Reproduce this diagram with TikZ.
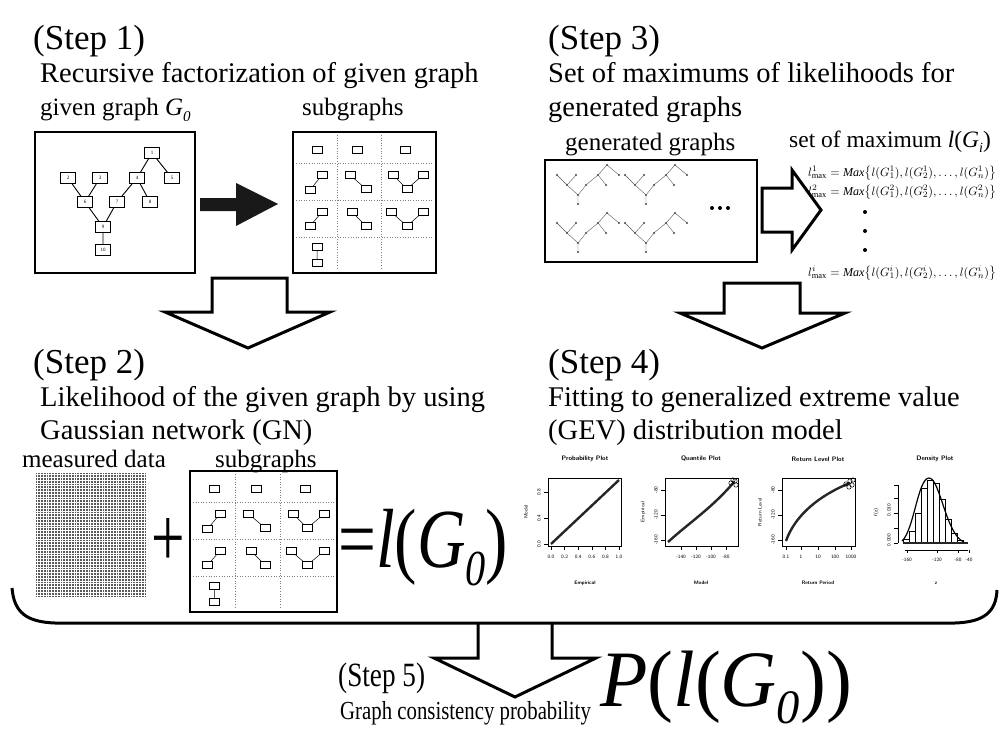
\documentclass[tikz,border=0pt]{standalone}
\usepackage{fontspec}
\setmainfont{Liberation Serif}
\usetikzlibrary{calc}
\newcommand\subs[1]{\raisebox{-0.22em}{\scalebox{0.6}{#1}}}
\tikzset{
  hdr/.style={anchor=base west, inner sep=0, font=\fontsize{35}{40}\selectfont},
  desc/.style={anchor=base west, inner sep=0, font=\fontsize{28.5}{32}\selectfont},
  lbl/.style={anchor=base west, inner sep=0, font=\fontsize{25}{28}\selectfont},
  frame/.style={draw, line width=1.8},
  gnode/.style={draw, line width=0.8, minimum width=15, minimum height=11, inner sep=0, fill=white, font=\fontsize{5}{6}\selectfont},
  gedge/.style={line width=0.9},
  snode/.style={draw, line width=0.5, minimum width=10, minimum height=7, inner sep=0, fill=white,
     path picture={\fill (path picture bounding box.center) circle (0.9);}},
  sedge/.style={line width=0.5},
  gridl/.style={gray, dotted, line width=0.6},
  mini/.style={gray!70!black, line width=0.4},
  hollow/.style={draw, line width=3, fill=white, line join=miter},
  pframe/.style={draw, line width=0.6},
  pcurve/.style={line width=2.4, black!85},
  ptitle/.style={inner sep=0, font=\sffamily\bfseries\fontsize{6.5}{7}\selectfont},
  tickl/.style={inner sep=0, font=\sffamily\fontsize{5}{6}\selectfont},
  formula/.style={anchor=base west, inner sep=0},
}
\newcommand\maxformula[1]{\resizebox{188pt}{!}{$l^{#1}_{\max}=\mathit{Max}\bigl\{l(G^{#1}_1),l(G^{#1}_2),\ldots,l(G^{#1}_n)\bigr\}$}}
\newcommand\subgraphsbox[3]{%
\begin{scope}[shift={(#1,#2)}]
\draw[frame] (0,0) rectangle (143,141);
\draw[gridl] (44,3) -- (44,138) (88,3) -- (88,138) (3,31) -- (140,31) (3,68) -- (140,68) (3,105) -- (140,105);
\node[snode] (#3a) at (24,18) {};
\node[snode] (#3b) at (64,18) {};
\node[snode] (#3c) at (112,18) {};
\node[snode] (#3d) at (29,43) {};
\node[snode] (#3e) at (17,58) {};
\node[snode] (#3f) at (57,43) {};
\node[snode] (#3g) at (73,57) {};
\node[snode] (#3h) at (100,43) {};
\node[snode] (#3i) at (130,43) {};
\node[snode] (#3j) at (114,57) {};
\node[snode] (#3k) at (29,80) {};
\node[snode] (#3l) at (17,94) {};
\node[snode] (#3m) at (59,80) {};
\node[snode] (#3n) at (73,94) {};
\node[snode] (#3o) at (98,80) {};
\node[snode] (#3p) at (130,80) {};
\node[snode] (#3q) at (114,94) {};
\node[snode] (#3r) at (24,115) {};
\node[snode] (#3s) at (24,131) {};
\draw[sedge] (#3d) -- (#3e) (#3f) -- (#3g) (#3h) -- (#3j) (#3i) -- (#3j)
  (#3k) -- (#3l) (#3m) -- (#3n) (#3o) -- (#3q) (#3p) -- (#3q) (#3r) -- (#3s);
\end{scope}}
\newcommand\minitree[2]{%
\begin{scope}[shift={(#1,#2)}]
\draw[mini] (70,8)--(61,18) (70,8)--(82,18) (20,18)--(30,28) (39,18)--(30,28)
  (61,18)--(49,28) (61,18)--(69,28) (30,28)--(41,38) (49,28)--(41,38) (41,38)--(41,47);
\foreach \p in {(70,8),(20,18),(39,18),(61,18),(82,18),(30,28),(49,28),(69,28),(41,38),(41,47)}
  \fill[gray!60!black] \p circle (1.2);
\end{scope}}
\begin{document}
\begin{tikzpicture}[x=1pt,y=-1pt]
\useasboundingbox (0,0) rectangle (1004,733);
\fill[white] (0,0) rectangle (1004,733);

% ---------- Step 1 ----------
\node[hdr] (s1h) at (33,50) {(Step 1)};
\node[desc] (s1d) at (40,83) {Recursive factorization of given graph};
\node[lbl] (s1l) at (40,116) {given graph \textit{G}\subs{\textit{0}}};
\node[lbl] (s1s) at (302,116) {subgraphs};
\draw[frame] (35,132) rectangle (195,273);
\node[gnode] (n1) at (152,153) {1};
\node[gnode] (n2) at (68,178) {2};
\node[gnode] (n3) at (100,178) {3};
\node[gnode] (n4) at (137,178) {4};
\node[gnode] (n5) at (172,178) {5};
\node[gnode] (n6) at (85,202) {6};
\node[gnode] (n7) at (117,202) {7};
\node[gnode] (n8) at (150,202) {8};
\node[gnode] (n9) at (103,227) {9};
\node[gnode] (n10) at (103,250) {10};
\draw[gedge] (n1) -- (n4) (n1) -- (n5) (n2) -- (n6) (n3) -- (n6) (n4) -- (n7) (n4) -- (n8)
  (n6) -- (n9) (n7) -- (n9) (n9) -- (n10);
\fill[black!90] (200,198) -- (236,198) -- (236,183) -- (278,204) -- (236,226) -- (236,211) -- (200,211) -- cycle;
\subgraphsbox{293}{132}{sa}

% arrow step1 -> step2
\draw[hollow] (212,278) -- (287,278) -- (287,312) -- (330,312) -- (248,348) -- (165,312) -- (212,312) -- cycle;

% ---------- Step 3 ----------
\node[hdr] (s3h) at (548,50) {(Step 3)};
\node[desc] (s3d) at (548,83) {Set of maximums of likelihoods for};
\node[desc] (s3d2) at (548,117) {generated graphs};
\node[lbl] (s3l) at (565,150) {generated graphs};
\draw[frame] (545,160) rectangle (757,262);
\minitree{537}{157}
\minitree{605}{157}
\minitree{537}{205}
\minitree{605}{205}
\foreach \x in {712,720,728} \fill (\x,208) circle (2);
\node[lbl, font=\fontsize{23.5}{26}\selectfont] (s3m) at (789,147) {set of maximum \textit{l}(\textit{G}\subs{\textit{i}})};
\draw[hollow] (762,188) -- (792,188) -- (792,170) -- (821,210) -- (792,250) -- (792,232) -- (762,232) -- cycle;
\node[formula] (f1) at (808,176) {\maxformula{1}};
\node[formula] (f2) at (808,195) {\maxformula{2}};
\foreach \y in {212,231,250} \fill (865,\y) circle (2);
\node[formula] (f3) at (808,276) {\maxformula{i}};

% arrow step3 -> step4
\draw[hollow] (724,283) -- (800,283) -- (800,313) -- (845,313) -- (762,348) -- (680,313) -- (724,313) -- cycle;

% ---------- Step 2 ----------
\node[hdr] (s2h) at (33,373) {(Step 2)};
\node[desc] (s2d) at (40,406) {Likelihood of the given graph by using};
\node[desc] (s2d2) at (40,439) {Gaussian network (GN)};
\node[lbl] (s2l) at (22,467) {measured data};
\node[lbl] (s2s) at (215,467) {subgraphs};
\fill[gray!70!black] (36,473) rectangle (147,597);
\foreach \i in {0,...,39} \draw[white, line width=0.55] ({36+1.4+2.8*\i},473) -- ++(0,124);
\foreach \j in {0,...,43} \draw[white, line width=0.55] (36,{473+1.4+2.8*\j}) -- ++(111,0);
\node[anchor=base, inner sep=0, font=\fontsize{85}{85}\selectfont] (plus) at (168,566) {\scalebox{0.7}[1]{+}};
\begin{scope}[shift={(190,471)}, xscale=1.03]
\subgraphsbox{0}{0}{sb}
\end{scope}
\node[anchor=base west, inner sep=0, font=\fontsize{84}{84}\selectfont] (lg0) at (338,567)
  {\scalebox{0.8}[1]{=\textit{l}(\textit{G}\subs{\textit{0}})}};

% ---------- Step 4 ----------
\node[hdr] (s4h) at (548,373) {(Step 4)};
\node[desc] (s4d) at (548,406) {Fitting to generalized extreme value};
\node[desc] (s4d2) at (548,439) {(GEV) distribution model};

% plot 1
\node[ptitle] (p1t) at (585,459) {Probability Plot};
\draw[pframe] (548,478) rectangle (621,546);
\draw[pcurve] (551,544) -- (619,480);
\foreach \v [count=\i from 0] in {0.0,0.2,0.4,0.6,0.8,1.0} {
  \draw[line width=0.5] ({551+13.6*\i},546) -- ++(0,4);
  \node[tickl] (p1x\i) at ({551+13.6*\i},557) {\v};}
\foreach \v [count=\i from 0] in {0.0,0.4,0.8} {
  \draw[line width=0.5] (548,{544-26*\i}) -- ++(-4,0);
  \node[tickl, rotate=90] (p1y\i) at (539,{544-26*\i}) {\v};}
\node[tickl, font=\sffamily\bfseries\fontsize{5}{6}\selectfont] (p1xl) at (585,583) {Empirical};
\node[tickl, rotate=90] (p1yl) at (526,512) {Model};

% plot 2
\node[ptitle] (p2t) at (701,459) {Quantile Plot};
\draw[pframe] (665,478) rectangle (738,546);
\draw[pcurve] (668,542) .. controls (690,522) and (712,508) .. (734,482);
\foreach \c in {(731,483),(735,481),(736,485),(733,480)} \draw[line width=0.5] \c circle (2.2);
\foreach \v [count=\i from 0] in {-140,-120,-100,-80} {
  \draw[line width=0.5] ({681+15*\i},546) -- ++(0,4);
  \node[tickl] (p2x\i) at ({681+15*\i},557) {\v};}
\foreach \v [count=\i from 0] in {-160,-120,-80} {
  \draw[line width=0.5] (665,{540-25*\i}) -- ++(-4,0);
  \node[tickl, rotate=90] (p2y\i) at (656,{540-25*\i}) {\v};}
\node[tickl, font=\sffamily\bfseries\fontsize{5}{6}\selectfont] (p2xl) at (701,583) {Model};
\node[tickl, rotate=90] (p2yl) at (643,512) {Empirical};

% plot 3
\node[ptitle] (p3t) at (818,459) {Return Level Plot};
\draw[pframe] (782,478) rectangle (855,546);
\draw[pcurve] (786,541) .. controls (795,515) and (820,495) .. (850,483);
\foreach \c in {(846,484),(850,481),(852,485),(849,487),(853,480)} \draw[line width=0.5] \c circle (2.2);
\foreach \v/\x [count=\i from 0] in {0.1/786,1/801,10/818,100/835,1000/851} {
  \draw[line width=0.5] (\x,546) -- ++(0,4);
  \node[tickl] (p3x\i) at (\x,557) {\v};}
\foreach \v [count=\i from 0] in {-160,-120,-80} {
  \draw[line width=0.5] (782,{540-25*\i}) -- ++(-4,0);
  \node[tickl, rotate=90] (p3y\i) at (773,{540-25*\i}) {\v};}
\node[tickl, font=\sffamily\bfseries\fontsize{5}{6}\selectfont] (p3xl) at (818,583) {Return Period};
\node[tickl, rotate=90] (p3yl) at (760,512) {Return Level};

% plot 4
\node[ptitle] (p4t) at (935,459) {Density Plot};
\draw[line width=0.6] (898,485) -- (898,543);
\foreach \y in {543,528,513,498,485} \draw[line width=0.5] (898,\y) -- ++(-4,0);
\node[tickl, rotate=90] (p4y0) at (889,540) {0.000};
\node[tickl, rotate=90] (p4y1) at (889,510) {0.010};
\node[tickl, rotate=90] (p4yl) at (876,512) {f(z)};
\foreach \x/\h in {903/4,909/12,915/30,921/55,927/63,933/60,939/44,945/24,951/10,957/3}
  \draw[line width=0.5] (\x,543) rectangle ++(6,-\h);
\draw[line width=1.2] (902,541) .. controls (914,530) and (918,478) .. (929,478) .. controls (940,478) and (946,535) .. (964,542);
\draw[line width=2.6, black!85] (903,543) -- (968,543);
\draw[line width=0.6] (905,550) -- (968,550);
\foreach \v/\x [count=\i from 0] in {-160/907,-120/937,-80/958,-40/969} {
  \draw[line width=0.5] (\x,550) -- ++(0,3);
  \node[tickl] (p4x\i) at (\x,560) {\v};}
\node[tickl, font=\sffamily\bfseries\fontsize{5}{6}\selectfont] (p4xl) at (936,583) {z};

% ---------- bracket and Step 5 ----------
\draw[hollow] (478,623) -- (478,658) -- (434,658) -- (515,697) -- (596,658) -- (552,658) -- (552,623);
\draw[line width=3] (12,588) .. controls (14,612) and (26,622) .. (55,623) -- (955,623)
  .. controls (984,622) and (996,612) .. (997,590);
\node[anchor=base west, inner sep=0, font=\fontsize{34}{38}\selectfont] (s5h) at (338,686) {\scalebox{0.8}[1]{(Step 5)}};
\node[anchor=base west, inner sep=0, font=\fontsize{26}{30}\selectfont] (s5d) at (340,719) {\scalebox{0.8}[1]{Graph consistency probability}};
\node[anchor=base west, inner sep=0, font=\fontsize{80}{84}\selectfont] (pl) at (600,706)
  {\scalebox{0.97}[1]{\textit{P}(\textit{l}(\textit{G}\subs{\textit{0}}))}};
\end{tikzpicture}
\end{document}
